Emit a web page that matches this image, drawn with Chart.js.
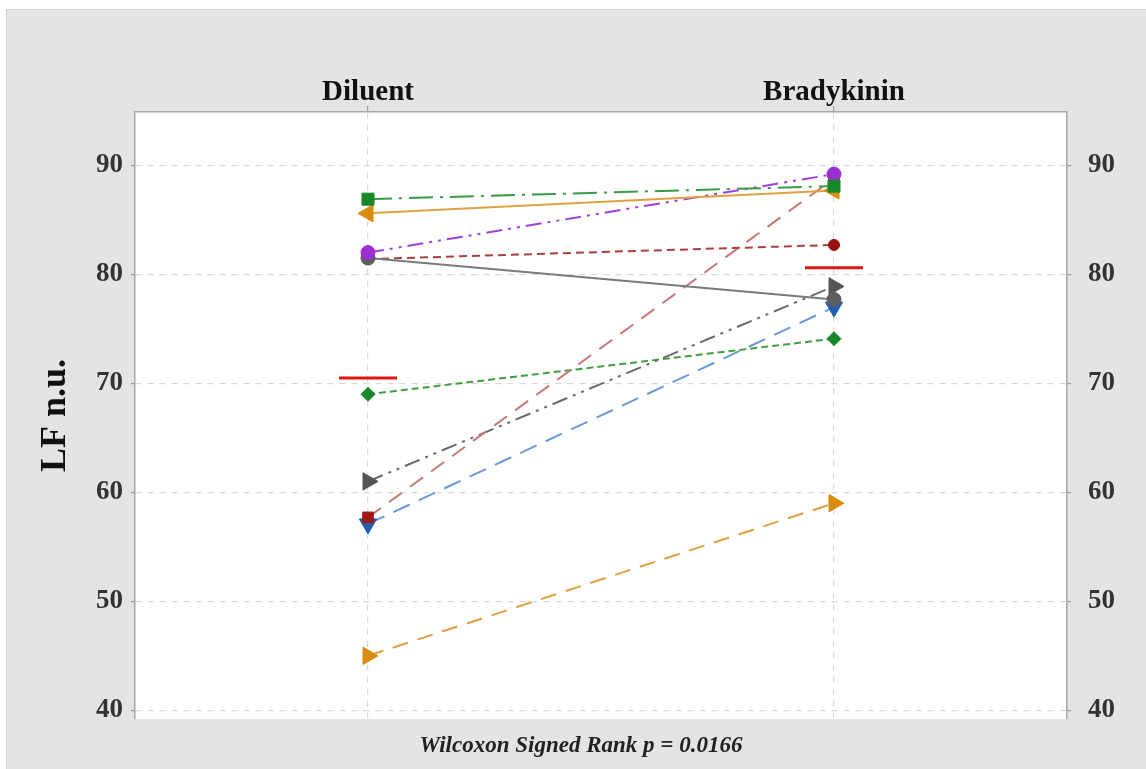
<!DOCTYPE html>
<html>
<head>
<meta charset="utf-8">
<script src="https://cdn.jsdelivr.net/npm/chart.js@4/dist/chart.umd.min.js"></script>
<style>
  html, body { margin: 0; padding: 0; background: #ffffff; }
  #c { display: block; }
</style>
</head>
<body>
<canvas id="c" width="1146" height="769"></canvas>
<script>
// ---- data ----
const categories = ['Diluent', 'Bradykinin'];
const yTicks = [40, 50, 60, 70, 80, 90];
const subjects = ['S1', 'S2', 'S3', 'S4', 'S5', 'S6', 'S7', 'S8', 'S9', 'S10'];
const diluent    = [86.9, 85.6, 82.0, 81.5, 81.4, 57.7, 61.0, 57.1, 69.0, 45.0];
const bradykinin = [88.1, 87.7, 89.2, 77.7, 82.7, 88.8, 78.9, 77.0, 74.1, 59.0];
const means = [70.5, 80.6];
const statText = 'Wilcoxon Signed Rank p = 0.0166';

// ---- styles (per subject) ----
const styles = [
  { line: '#3a9a4a', point: '#17882a', dash: [24, 7, 3, 7], shape: 'rect', rot: 0, r: 8.5 },
  { line: '#e0a040', point: '#d98c0f', dash: [], shape: 'triangle', rot: -90, r: 10 },
  { line: '#a040d8', point: '#9b30d0', dash: [16, 6, 3, 6, 3, 6], shape: 'circle', rot: 0, r: 7 },
  { line: '#7a7a7a', point: '#5e5e5e', dash: [], shape: 'circle', rot: 0, r: 7 },
  { line: '#a84040', point: '#9b1010', dash: [8, 5], shape: 'circle', rot: 0, r: 5.5 },
  { line: '#c87878', point: '#a01818', dash: [16, 10], shape: 'rect', rot: 0, r: 7.5 },
  { line: '#6a6a6a', point: '#555555', dash: [16, 6, 3, 6, 3, 6], shape: 'triangle', rot: 90, r: 10 },
  { line: '#6a9ad6', point: '#1f5faf', dash: [18, 10], shape: 'triangle', rot: 180, r: 10 },
  { line: '#40a040', point: '#17882a', dash: [7, 4], shape: 'rectRot', rot: 0, r: 7 },
  { line: '#e0a040', point: '#d98c0f', dash: [16, 10], shape: 'triangle', rot: 90, r: 10 }
];

const datasets = subjects.map((s, i) => ({
  type: 'line',
  label: s,
  data: [{ x: 0, y: diluent[i] }, { x: 1, y: bradykinin[i] }],
  borderColor: styles[i].line,
  borderWidth: 2,
  borderDash: styles[i].dash,
  pointStyle: styles[i].shape,
  pointRotation: styles[i].rot,
  pointRadius: styles[i].r,
  pointBackgroundColor: styles[i].point,
  pointBorderColor: styles[i].point,
  pointBorderWidth: 1,
  fill: false,
  tension: 0,
  xAxisID: 'x',
  yAxisID: 'y'
}));

datasets.push({
  type: 'scatter',
  label: 'Mean',
  data: means.map((m, i) => ({ x: i, y: m })),
  showLine: false,
  pointStyle: 'line',
  pointRadius: 29,
  borderColor: '#e01515',
  pointBorderColor: '#e01515',
  pointBorderWidth: 3,
  xAxisID: 'x',
  yAxisID: 'y'
});

const SERIF = '"Liberation Serif", "Times New Roman", serif';

const bgPlugin = {
  id: 'bg',
  beforeDraw(chart) {
    const { ctx, chartArea: a } = chart;
    ctx.save();
    ctx.fillStyle = '#e4e4e4';
    ctx.fillRect(6, 9, chart.width - 6, chart.height - 9);
    ctx.strokeStyle = '#d2d2d2';
    ctx.lineWidth = 1;
    ctx.strokeRect(6.5, 9.5, chart.width - 6, chart.height - 9);
    ctx.fillStyle = '#ffffff';
    ctx.fillRect(a.left, a.top, a.right - a.left, a.bottom - a.top);
    ctx.restore();
  }
};

const gridStyle = {
  color: '#d8d8d8',
  lineWidth: 1.2,
  tickColor: '#9a9a9a',
  tickLength: 4
};

const tickFont = { family: SERIF, size: 27, weight: 'bold' };

new Chart(document.getElementById('c'), {
  data: { datasets },
  plugins: [bgPlugin],
  options: {
    responsive: false,
    animation: false,
    devicePixelRatio: 1,
    layout: { padding: { left: 16, right: 0, top: 0, bottom: 0 } },
    plugins: {
      legend: { display: false },
      tooltip: { enabled: false },
      title: {
        display: true,
        position: 'bottom',
        text: statText,
        font: { family: SERIF, size: 23, weight: 'bold', style: 'italic' },
        color: '#222222',
        padding: { top: 13.4, bottom: 9 }
      }
    },
    scales: {
      x: {
        type: 'linear',
        position: 'top',
        min: -0.5,
        max: 1.5,
        afterBuildTicks: (scale) => { scale.ticks = categories.map((c, i) => ({ value: i })); },
        afterFit: (scale) => { scale.height = 112; },
        ticks: {
          callback: (v) => categories[v] ?? '',
          font: { family: SERIF, size: 29, weight: 'bold' },
          color: '#111111',
          padding: -4
        },
        grid: { ...gridStyle, tickLength: 6 },
        border: { display: true, color: '#a8a8a8', width: 1.5, dash: [6, 6] }
      },
      y: {
        type: 'linear',
        position: 'left',
        min: 39.2,
        max: 94.9,
        afterBuildTicks: (scale) => { scale.ticks = yTicks.map(v => ({ value: v })); },
        afterFit: (scale) => { scale.width = 119; },
        ticks: {
          font: tickFont,
          color: '#333333',
          padding: 8
        },
        grid: gridStyle,
        border: { display: true, color: '#a8a8a8', width: 1.5, dash: [6, 6] },
        title: {
          display: true,
          text: 'LF n.u.',
          font: { family: SERIF, size: 36, weight: 'bold' },
          color: '#111111',
          padding: { top: 18, bottom: 0 }
        }
      },
      yR: {
        type: 'linear',
        position: 'right',
        min: 39.2,
        max: 94.9,
        afterBuildTicks: (scale) => { scale.ticks = yTicks.map(v => ({ value: v })); },
        afterFit: (scale) => { scale.width = 79; },
        ticks: {
          font: tickFont,
          color: '#333333',
          padding: 17
        },
        grid: { ...gridStyle, drawOnChartArea: false },
        border: { display: true, color: '#a8a8a8', width: 1.5 }
      }
    }
  }
});
</script>
</body>
</html>
